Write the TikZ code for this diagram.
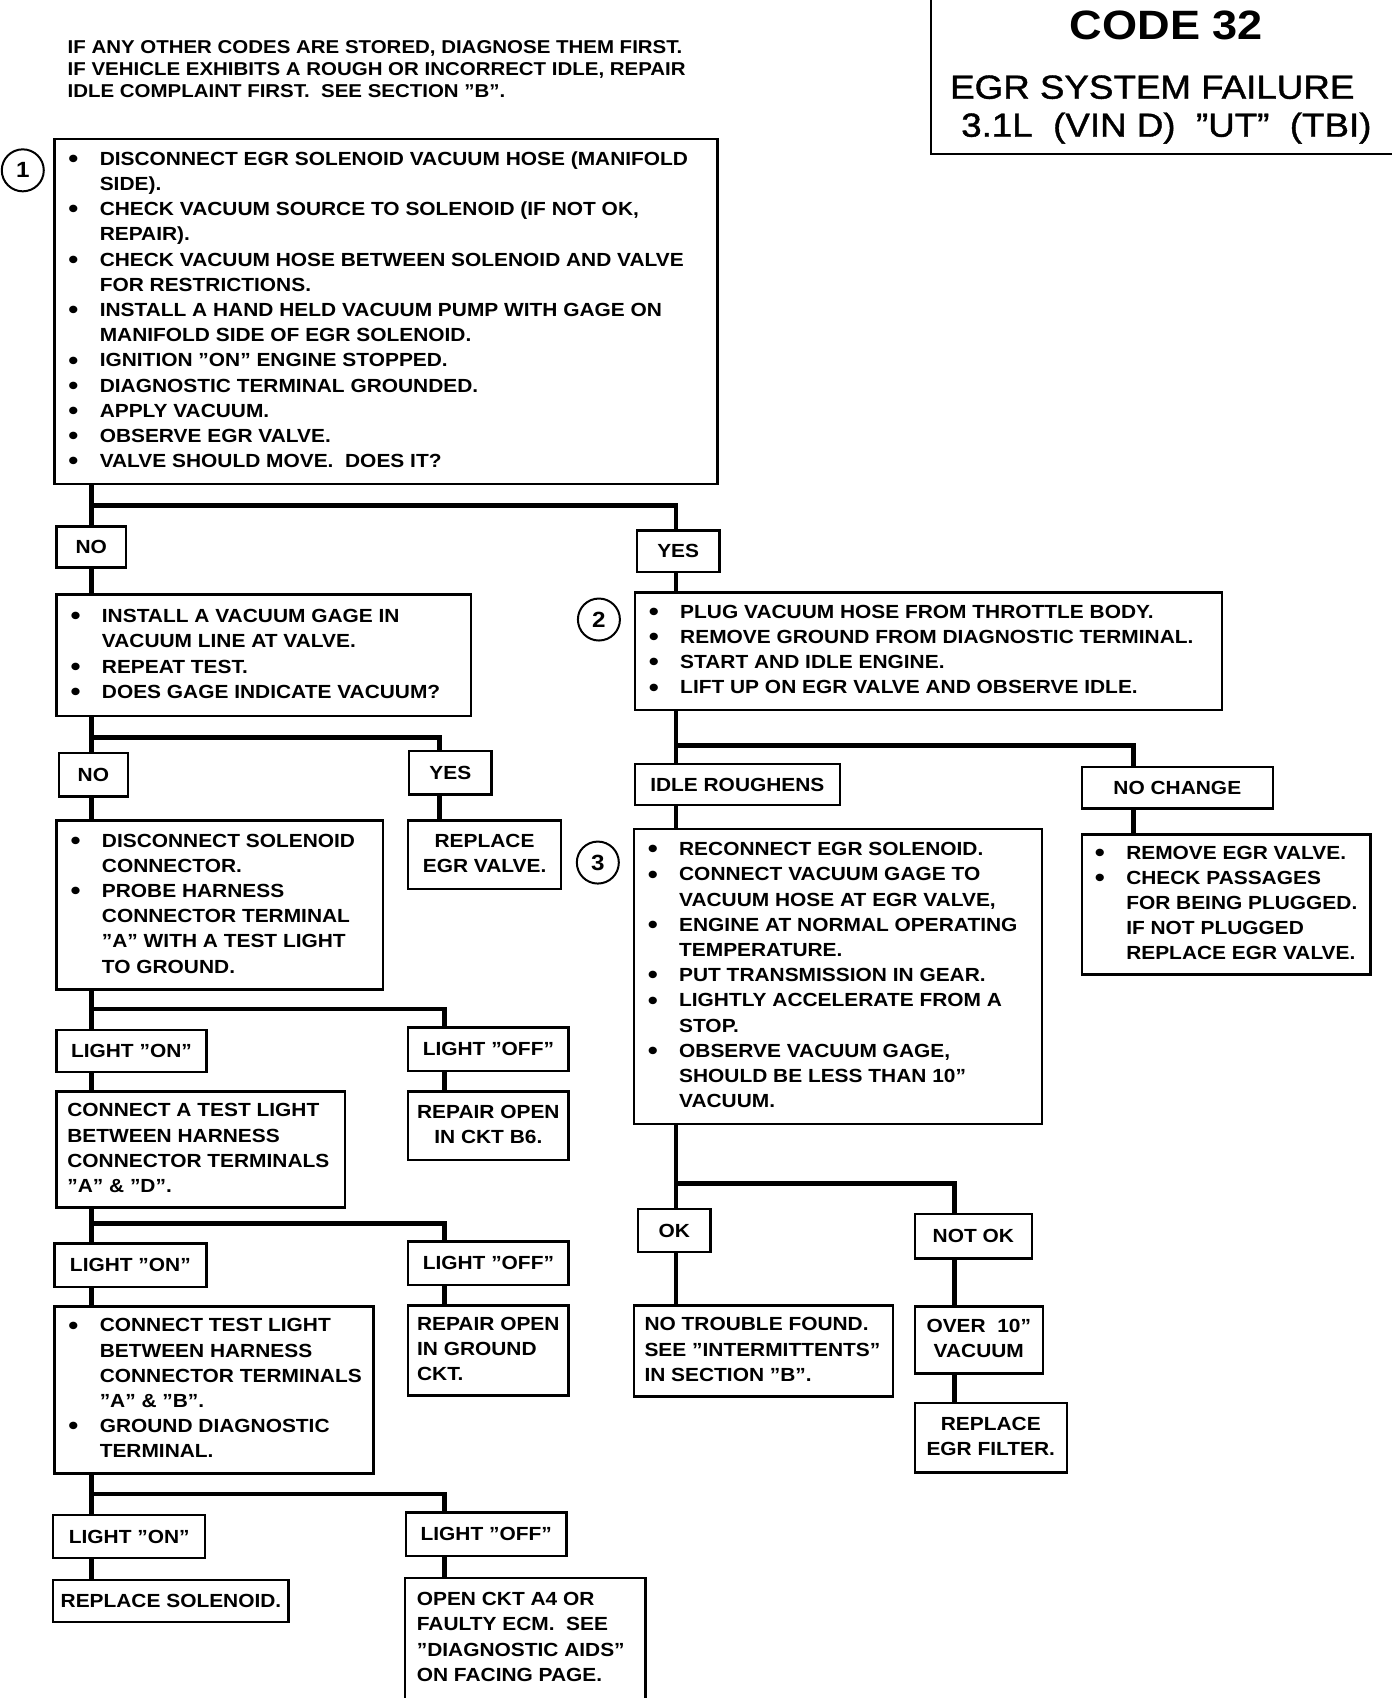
\documentclass[tikz,border=0pt]{standalone}
\usepackage{fontspec}
\setmainfont{Liberation Sans}[FakeStretch=1.1]
\newfontfamily\titlefont{Liberation Sans}[FakeStretch=1.1,FakeBold=1.2]
\newcommand\bu{\makebox[15.7pt][l]{\raisebox{-1.1pt}{\fontsize{13}{13}\selectfont\textbullet}}}
\newcommand\hg{\hspace*{15.7pt}}
\newcommand\tb[2]{\makebox[#1][l]{\begin{tabular}{@{}l@{}}#2\end{tabular}}}
\newcommand\tcc[1]{\begin{tabular}{@{}c@{}}#1\end{tabular}}
\tikzset{
  box/.style={draw, line width=1.2pt, rectangle, inner ysep=0pt, anchor=north west,
    font=\bfseries\fontsize{9.5}{12.6}\selectfont},
  lbox/.style={box, align=center, inner xsep=0pt},
  conn/.style={line width=2.4pt},
  circ/.style={draw, circle, line width=1pt, minimum size=21pt, inner sep=0pt,
    font=\bfseries\fontsize{11}{13}\selectfont},
}
\begin{document}
\begin{tikzpicture}[x=0.5425pt, y=-0.5425pt]
\useasboundingbox (0,0) rectangle (1283,1565);

% column and junction coordinates
\coordinate (cL) at (84,0);
\coordinate (cM) at (405,0);
\coordinate (cM2) at (410,0);
\coordinate (cR) at (623,0);
\coordinate (cN) at (880,0);
\coordinate (cC) at (1045,0);
\coordinate (j1) at (0,466);
\coordinate (j2) at (0,680);
\coordinate (j3) at (0,930);
\coordinate (j4) at (0,1128);
\coordinate (j5) at (0,1377);
\coordinate (j6) at (0,687);
\coordinate (j7) at (0,1091);

% title block
\draw[line width=1.2pt] (858,0) -- (858,142) -- (1283,142);
\node[font=\bfseries\fontsize{20.5}{24}\selectfont, anchor=base, inner sep=0pt] (code) at (1075,36) {CODE 32};
\node[font=\titlefont\fontsize{16.7}{20}\selectfont, anchor=base, inner sep=0pt] (sys) at (1062,91) {EGR SYSTEM FAILURE};
\node[font=\titlefont\fontsize{16.7}{20}\selectfont, anchor=base, inner sep=0pt] (eng) at (1075,126) {3.1L\ \ (VIN D)\ \ ”UT”\ \ (TBI)};

% header note
\node[anchor=north west, inner sep=0pt, align=left, font=\bfseries\fontsize{9.3}{11.1}\selectfont] (hdr) at (62,37)
  {IF ANY OTHER CODES ARE STORED, DIAGNOSE THEM FIRST.\\
   IF VEHICLE EXHIBITS A ROUGH OR INCORRECT IDLE, REPAIR\\
   IDLE COMPLAINT FIRST.\ \ SEE SECTION ”B”.};

% circled step numbers
\node[circ] (c1) at (21,157) {1};
\node[circ] (c2) at (552,571) {2};
\node[circ] (c3) at (551,795) {3};

% ---------- left branch ----------
\node[box, minimum width=331.5pt, minimum height=172.5pt, inner xsep=7pt] (b1) at (49,127) {\tb{317.5pt}{%
\bu DISCONNECT EGR SOLENOID VACUUM HOSE (MANIFOLD\\
\hg SIDE).\\
\bu CHECK VACUUM SOURCE TO SOLENOID (IF NOT OK,\\
\hg REPAIR).\\
\bu CHECK VACUUM HOSE BETWEEN SOLENOID AND VALVE\\
\hg FOR RESTRICTIONS.\\
\bu INSTALL A HAND HELD VACUUM PUMP WITH GAGE ON\\
\hg MANIFOLD SIDE OF EGR SOLENOID.\\
\bu IGNITION ”ON” ENGINE STOPPED.\\
\bu DIAGNOSTIC TERMINAL GROUNDED.\\
\bu APPLY VACUUM.\\
\bu OBSERVE EGR VALVE.\\
\bu VALVE SHOULD MOVE.\ \ DOES IT?}};

\node[lbox, minimum width=34.7pt, minimum height=20.6pt] (no1) at (51,484) {NO};
\node[lbox, minimum width=41.2pt, minimum height=20.6pt] (yes1) at (586,488) {YES};

\node[box, minimum width=207.2pt, minimum height=60.8pt, inner xsep=7pt] (b2L) at (51,547) {\tb{193.2pt}{%
\bu INSTALL A VACUUM GAGE IN\\
\hg VACUUM LINE AT VALVE.\\
\bu REPEAT TEST.\\
\bu DOES GAGE INDICATE VACUUM?}};

\node[lbox, minimum width=34.7pt, minimum height=21.7pt] (no2) at (53,693) {NO};
\node[lbox, minimum width=41.2pt, minimum height=21.7pt] (yes2) at (376,691) {YES};

\node[lbox, minimum width=76.5pt, minimum height=34.2pt] (rev1) at (375,755) {\tcc{REPLACE\\EGR VALVE.}};

\node[box, minimum width=163.3pt, minimum height=84.6pt, inner xsep=7pt] (b3L) at (51,755) {\tb{149.3pt}{%
\bu DISCONNECT SOLENOID\\
\hg CONNECTOR.\\
\bu PROBE HARNESS\\
\hg CONNECTOR TERMINAL\\
\hg ”A” WITH A TEST LIGHT\\
\hg TO GROUND.}};

\node[lbox, minimum width=74.9pt, minimum height=21.2pt] (lon1) at (51,948) {LIGHT ”ON”};
\node[lbox, minimum width=80.3pt, minimum height=21.7pt] (loff1) at (375,946) {LIGHT ”OFF”};
\node[lbox, minimum width=80.3pt, minimum height=34.2pt] (rep1) at (375,1005) {\tcc{REPAIR OPEN\\IN CKT B6.}};

\node[box, minimum width=144.3pt, minimum height=58pt, inner xsep=5.4pt] (b4L) at (51,1005) {\tb{133.5pt}{%
CONNECT A TEST LIGHT\\
BETWEEN HARNESS\\
CONNECTOR TERMINALS\\
”A” \& ”D”.}};

\node[lbox, minimum width=76pt, minimum height=21.7pt] (lon2) at (49,1145) {LIGHT ”ON”};
\node[lbox, minimum width=80.3pt, minimum height=21.7pt] (loff2) at (375,1143) {LIGHT ”OFF”};
\node[box, minimum width=80.3pt, minimum height=45pt, inner xsep=4.5pt] (rep2) at (375,1202) {\tb{71.3pt}{%
REPAIR OPEN\\
IN GROUND\\
CKT.}};

\node[box, minimum width=159.5pt, minimum height=83.5pt, inner xsep=7pt] (b5L) at (49,1203) {\tb{145.5pt}{%
\bu CONNECT TEST LIGHT\\
\hg BETWEEN HARNESS\\
\hg CONNECTOR TERMINALS\\
\hg ”A” \& ”B”.\\
\bu GROUND DIAGNOSTIC\\
\hg TERMINAL.}};

\node[lbox, minimum width=76pt, minimum height=21.7pt] (lon3) at (48,1395) {LIGHT ”ON”};
\node[lbox, minimum width=80.3pt, minimum height=21.7pt] (loff3) at (373,1393) {LIGHT ”OFF”};
\node[lbox, minimum width=117.7pt, minimum height=21.2pt] (rs) at (48,1455) {REPLACE SOLENOID.};
\node[box, minimum width=120.4pt, minimum height=60.8pt, inner xsep=6pt] (oc) at (372,1453) {\tb{108.4pt}{%
OPEN CKT A4 OR\\
FAULTY ECM.\ \ SEE\\
”DIAGNOSTIC AIDS”\\
ON FACING PAGE.}};

% ---------- right branch ----------
\node[box, minimum width=293.5pt, minimum height=58.6pt, inner xsep=7pt] (b2R) at (584,545) {\tb{279.5pt}{%
\bu PLUG VACUUM HOSE FROM THROTTLE BODY.\\
\bu REMOVE GROUND FROM DIAGNOSTIC TERMINAL.\\
\bu START AND IDLE ENGINE.\\
\bu LIFT UP ON EGR VALVE AND OBSERVE IDLE.}};

\node[lbox, minimum width=102.5pt, minimum height=20.6pt] (ir) at (584,703) {IDLE ROUGHENS};
\node[lbox, minimum width=95.5pt, minimum height=20.6pt] (nc) at (996,706) {NO CHANGE};

\node[box, minimum width=204pt, minimum height=147.6pt, inner xsep=7pt] (b3R) at (583,763) {\tb{190pt}{%
\bu RECONNECT EGR SOLENOID.\\
\bu CONNECT VACUUM GAGE TO\\
\hg VACUUM HOSE AT EGR VALVE,\\
\bu ENGINE AT NORMAL OPERATING\\
\hg TEMPERATURE.\\
\bu PUT TRANSMISSION IN GEAR.\\
\bu LIGHTLY ACCELERATE FROM A\\
\hg STOP.\\
\bu OBSERVE VACUUM GAGE,\\
\hg SHOULD BE LESS THAN 10”\\
\hg VACUUM.}};

\node[box, minimum width=144.3pt, minimum height=70pt, inner xsep=6.5pt] (rem) at (996,768) {\tb{131.3pt}{%
\bu REMOVE EGR VALVE.\\
\bu CHECK PASSAGES\\
\hg FOR BEING PLUGGED.\\
\hg IF NOT PLUGGED\\
\hg REPLACE EGR VALVE.}};

\node[lbox, minimum width=36.3pt, minimum height=21.7pt] (ok) at (587,1113) {OK};
\node[lbox, minimum width=58.6pt, minimum height=22.2pt] (nok) at (842,1118) {NOT OK};

\node[box, minimum width=129.7pt, minimum height=45.6pt, inner xsep=5.4pt] (nt) at (583,1202) {\tb{118.9pt}{%
NO TROUBLE FOUND.\\
SEE ”INTERMITTENTS”\\
IN SECTION ”B”.}};

\node[lbox, minimum width=64pt, minimum height=33.6pt] (ov) at (842,1203) {\tcc{OVER\ \ 10”\\VACUUM}};
\node[lbox, minimum width=76pt, minimum height=34.7pt] (ref) at (842,1292) {\tcc{REPLACE\\EGR FILTER.}};

% ---------- connectors ----------
\draw[conn] (b1.south -| cL) -- (no1.north -| cL);
\draw[conn] (cL |- j1) -| (yes1.north -| cR);
\draw[conn] (no1.south -| cL) -- (b2L.north -| cL);
\draw[conn] (yes1.south -| cR) -- (b2R.north -| cR);
\draw[conn] (b2L.south -| cL) -- (no2.north -| cL);
\draw[conn] (cL |- j2) -| (yes2.north -| cM);
\draw[conn] (no2.south -| cL) -- (b3L.north -| cL);
\draw[conn] (yes2.south -| cM) -- (rev1.north -| cM);
\draw[conn] (b3L.south -| cL) -- (lon1.north -| cL);
\draw[conn] (cL |- j3) -| (loff1.north -| cM2);
\draw[conn] (lon1.south -| cL) -- (b4L.north -| cL);
\draw[conn] (loff1.south -| cM2) -- (rep1.north -| cM2);
\draw[conn] (b4L.south -| cL) -- (lon2.north -| cL);
\draw[conn] (cL |- j4) -| (loff2.north -| cM2);
\draw[conn] (lon2.south -| cL) -- (b5L.north -| cL);
\draw[conn] (loff2.south -| cM2) -- (rep2.north -| cM2);
\draw[conn] (b5L.south -| cL) -- (lon3.north -| cL);
\draw[conn] (cL |- j5) -| (loff3.north -| cM2);
\draw[conn] (lon3.south -| cL) -- (rs.north -| cL);
\draw[conn] (loff3.south -| cM2) -- (oc.north -| cM2);

\draw[conn] (b2R.south -| cR) -- (ir.north -| cR);
\draw[conn] (cR |- j6) -| (nc.north -| cC);
\draw[conn] (ir.south -| cR) -- (b3R.north -| cR);
\draw[conn] (nc.south -| cC) -- (rem.north -| cC);
\draw[conn] (b3R.south -| cR) -- (ok.north -| cR);
\draw[conn] (cR |- j7) -| (nok.north -| cN);
\draw[conn] (ok.south -| cR) -- (nt.north -| cR);
\draw[conn] (nok.south -| cN) -- (ov.north -| cN);
\draw[conn] (ov.south -| cN) -- (ref.north -| cN);
\end{tikzpicture}
\end{document}
